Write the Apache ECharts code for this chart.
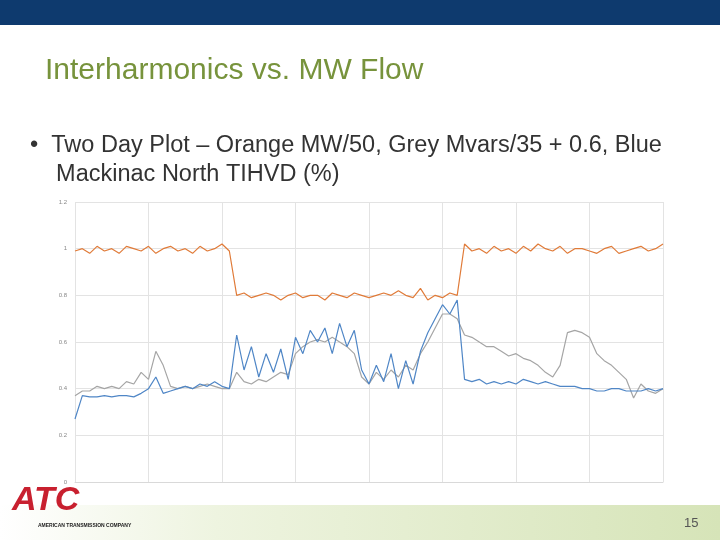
<!DOCTYPE html>
<html><head><meta charset="utf-8">
<script src="https://cdn.jsdelivr.net/npm/echarts@6/dist/echarts.min.js"></script>
<style>html,body{margin:0;padding:0;background:#fff}#c{width:720px;height:540px}</style>
</head><body><div id="c"></div>
<script>
const yTicks = ['0','0.2','0.4','0.6','0.8','1','1.2'];
const orangeMW = [0.99,1.0,0.98,1.01,0.99,1.0,0.98,1.01,1.0,0.99,1.01,0.98,1.0,1.01,0.99,1.0,0.98,1.01,0.99,1.0,1.02,0.99,
0.80,0.81,0.79,0.80,0.81,0.80,0.78,0.80,0.81,0.79,0.80,0.80,0.78,0.81,0.80,0.79,0.81,0.80,0.79,0.80,0.81,0.80,0.82,0.80,0.79,0.83,0.78,0.80,0.79,0.81,0.80,
1.02,0.99,1.0,0.98,1.01,0.99,1.0,0.98,1.01,0.99,1.02,1.0,0.99,1.01,0.98,1.0,1.0,0.99,0.98,1.0,1.01,0.98,0.99,1.0,1.01,0.99,1.0,1.02];
const blueTIHVD = [0.27,0.37,0.365,0.365,0.37,0.365,0.37,0.37,0.365,
0.38,0.40,0.45,0.38,0.39,0.40,
0.41,0.40,0.42,0.41,0.43,0.41,0.40,
0.63,0.48,0.58,0.45,0.55,0.47,0.57,0.44,0.62,0.55,0.65,
0.60,0.66,0.55,0.68,0.58,0.65,0.48,0.42,
0.50,0.43,0.55,0.40,0.52,0.42,0.56,
0.64,0.70,0.76,0.72,0.78,
0.44,0.43,0.44,0.42,0.43,0.42,0.43,0.42,0.44,0.43,0.42,0.43,0.42,0.41,0.41,0.41,0.40,0.40,0.39,0.39,0.40,0.40,0.39,0.39,0.39,0.40,0.39,0.40];
const greyMvar = [0.37,0.39,0.39,0.41,0.40,0.41,0.40,0.43,0.42,
0.47,0.44,0.56,0.50,0.41,0.40,
0.41,0.40,0.41,0.42,0.41,0.40,0.40,
0.47,0.43,0.42,0.44,0.43,0.45,0.47,0.46,0.55,0.58,0.60,
0.61,0.60,0.62,0.60,0.58,0.55,0.45,0.42,
0.47,0.44,0.48,0.45,0.50,0.48,0.55,
0.60,0.66,0.72,0.72,0.70,
0.63,0.62,0.60,0.58,0.58,0.56,0.54,0.55,0.53,0.52,0.50,0.47,0.45,0.50,0.64,0.65,0.64,0.62,0.55,0.52,0.50,0.47,0.44,0.36,0.42,0.39,0.38,0.40];
const xStep = 0.1;
const pairs = a => a.map((v,i)=>[+(i*xStep).toFixed(2), v]);
const chart = echarts.init(document.getElementById('c'));
const ln = (d,c)=>({type:'line',data:pairs(d),showSymbol:false,lineStyle:{color:c,width:1.2},itemStyle:{color:c},animation:false});
chart.setOption({
  animation:false,
  graphic:[
    {type:'rect',shape:{x:0,y:0,width:720,height:25},style:{fill:'#0e3a6e'}},
    {type:'rect',shape:{x:0,y:505,width:720,height:35},style:{fill:new echarts.graphic.LinearGradient(0,0,1,0,[{offset:0,color:'#ffffff'},{offset:0.3,color:'#eef4e0'},{offset:1,color:'#d6e4b8'}])}},
    {type:'text',left:45,top:56,style:{text:'Interharmonics vs. MW Flow',fill:'#77933c',font:'30px "Liberation Sans", Arial'}},
    {type:'text',left:30,top:131,style:{text:'•  Two Day Plot – Orange MW/50, Grey Mvars/35 + 0.6, Blue\n    Mackinac North TIHVD (%)',fill:'#333333',font:'23.5px "Liberation Sans", Arial',lineHeight:29}},
    {type:'text',left:12,top:484,style:{text:'ATC',fill:'#c8202f',font:'italic bold 34px "Liberation Sans", Arial'}},
    {type:'text',left:38,top:523,style:{text:'AMERICAN TRANSMISSION COMPANY',fill:'#222',font:'bold 5px "Liberation Sans", Arial'}},
    {type:'text',left:684,top:517,style:{text:'15',fill:'#555',font:'13px "Liberation Sans", Arial'}}
  ],
  grid:{left:75,right:57,top:202,bottom:58},
  xAxis:{type:'value',min:0,max:8,interval:1,axisLabel:{show:false},axisTick:{show:false},
    axisLine:{show:true,lineStyle:{color:'#d9d9d9'}},splitLine:{show:true,lineStyle:{color:'#e3e3e3'}}},
  yAxis:{type:'value',min:0,max:1.2,interval:0.2,axisLine:{show:false},axisTick:{show:false},
    axisLabel:{color:'#888',fontSize:6,margin:8,formatter:v=>yTicks[Math.round(v/0.2)]},
    splitLine:{lineStyle:{color:'#e3e3e3'}}},
  series:[ln(greyMvar,'#a5a5a5'),ln(blueTIHVD,'#4f86c6'),ln(orangeMW,'#e07b39')]
});
</script></body></html>
